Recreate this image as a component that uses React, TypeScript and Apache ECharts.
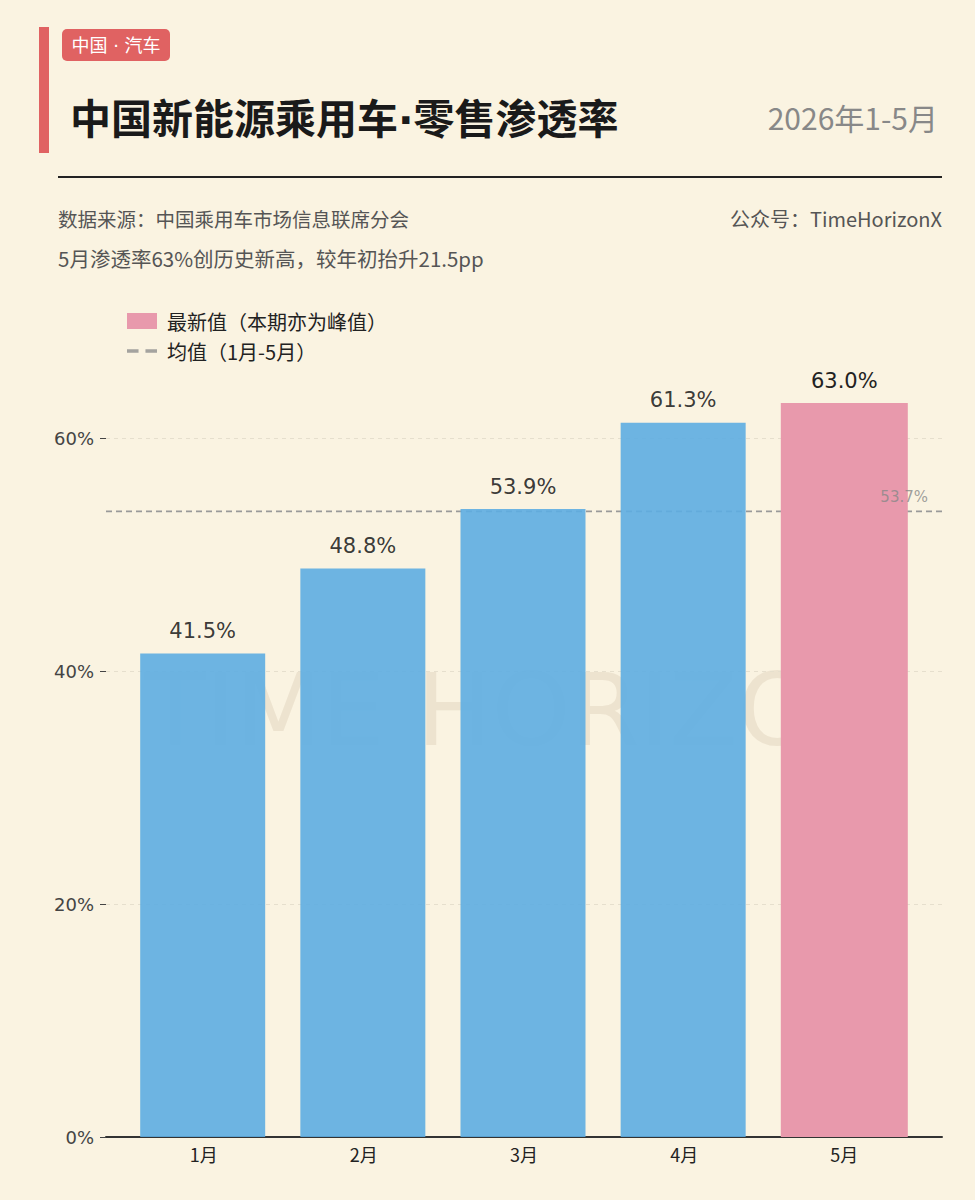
import React, { useEffect, useRef } from "react";
import * as echarts from "echarts";

const CATEGORIES = ["1月", "2月", "3月", "4月", "5月"];
const VALUES = [41.5, 48.8, 53.9, 61.3, 63.0];
const LATEST_INDEX = 4;
const Y_MIN = 0;
const Y_MAX = 60;
const Y_INTERVAL = 20;
const X_MIN = -0.61;
const X_MAX = 4.61;

const TITLE = "中国新能源乘用车·零售渗透率";
const TAG = "中国 · 汽车";
const PERIOD = "2026年1-5月";
const SOURCE = "数据来源：中国乘用车市场信息联席分会";
const ACCOUNT = "公众号：TimeHorizonX";
const SUBTITLE = "5月渗透率63%创历史新高，较年初抬升21.5pp";
const LEGEND_LATEST = "最新值（本期亦为峰值）";
const LEGEND_AVG = "均值（1月-5月）";
const WATERMARK = "TIME HORIZON";

const BG = "#faf3e1";
const BLUE = "#5dade2";
const PINK = "#e899ac";
const RED = "#e06262";
const GREY = "#999";
const CJK = "'Noto Sans CJK SC', sans-serif";
const NUM = "'DejaVu Sans', 'Noto Sans CJK SC', sans-serif";

export default function App() {
  const ref = useRef<HTMLDivElement>(null);
  useEffect(() => {
    document.body.style.margin = "0";
    document.body.style.background = BG;
    const chart = echarts.init(ref.current!, null, { renderer: "svg" });
    const avg = VALUES.reduce((a, b) => a + b, 0) / VALUES.length;
    const blueData = VALUES.map((v, i) => (i === LATEST_INDEX ? [i, "-"] : [i, v]));
    const pinkData = VALUES.map((v, i) => (i === LATEST_INDEX ? [i, v] : [i, "-"]));
    const barLabel = {
      show: true,
      position: "top",
      distance: 12,
      fontSize: 21,
      color: "#222",
      fontFamily: NUM,
      formatter: (p: any) => Number(p.value[1]).toFixed(1) + "%",
    };
    chart.setOption({
      animation: false,
      backgroundColor: BG,
      graphic: [
        {
          type: "text",
          z: 0,
          silent: true,
          style: {
            text: WATERMARK,
            x: 518,
            y: 710,
            align: "center",
            verticalAlign: "middle",
            fontSize: 100,
            fontFamily: NUM,
            fill: "#ede3cf",
          },
        },
        { type: "rect", shape: { x: 39, y: 27, width: 10, height: 126 }, style: { fill: RED } },
        { type: "rect", shape: { x: 62, y: 29, width: 108, height: 32, r: 5 }, style: { fill: RED } },
        {
          type: "text",
          style: { text: TAG, x: 116, y: 45, align: "center", verticalAlign: "middle", fontSize: 18, fontFamily: NUM, fill: "#fff" },
        },
        {
          type: "text",
          style: { text: TITLE, x: 70, y: 120, verticalAlign: "middle", fontSize: 41, fontWeight: "bold", fontFamily: NUM, fill: "#1a1a1a" },
        },
        {
          type: "text",
          style: { text: PERIOD, x: 938, y: 117, align: "right", verticalAlign: "middle", fontSize: 30, fontFamily: CJK, fill: "#888" },
        },
        { type: "line", shape: { x1: 58, y1: 177, x2: 942, y2: 177 }, style: { stroke: "#222", lineWidth: 2 } },
        {
          type: "text",
          style: { text: SOURCE, x: 58, y: 218, verticalAlign: "middle", fontSize: 19.5, fontFamily: CJK, fill: "#555" },
        },
        {
          type: "text",
          style: { text: ACCOUNT, x: 942, y: 218, align: "right", verticalAlign: "middle", fontSize: 20, fontFamily: CJK, fill: "#555" },
        },
        {
          type: "text",
          style: { text: SUBTITLE, x: 58, y: 258, verticalAlign: "middle", fontSize: 20.5, fontFamily: CJK, fill: "#555" },
        },
      ],
      legend: {
        orient: "vertical",
        left: 127,
        top: 311,
        padding: 0,
        itemWidth: 30,
        itemHeight: 16,
        itemGap: 10,
        selectedMode: false,
        data: [
          { name: LEGEND_LATEST, icon: "rect" },
          { name: LEGEND_AVG, icon: "path://M0,0H10V3H0Z M16,0H26V3H16Z", itemStyle: { color: "#8f8f8f" } },
        ],
        textStyle: { fontSize: 20, color: "#222", fontFamily: CJK, padding: [0, 0, 0, 5] },
      },
      grid: { left: 106, right: 33, top: 438, bottom: 63, containLabel: false, outerBoundsMode: "none" },
      xAxis: {
        type: "value",
        min: X_MIN,
        max: X_MAX,
        axisLine: { show: true, onZero: false, lineStyle: { color: "#333", width: 2 } },
        axisTick: { show: false },
        splitLine: { show: false },
        axisLabel: {
          customValues: CATEGORIES.map((_, i) => i),
          formatter: (v: number) => CATEGORIES[Math.round(v)] ?? "",
          fontSize: 18,
          color: "#222",
          fontFamily: CJK,
          margin: 8,
        },
      },
      yAxis: {
        type: "value",
        min: Y_MIN,
        max: Y_MAX,
        interval: Y_INTERVAL,
        axisLine: { show: false, onZero: false },
        axisTick: { show: true, length: 6, lineStyle: { color: "#444" } },
        axisLabel: { formatter: "{value}%", fontSize: 18, color: "#444", fontFamily: NUM, margin: 12 },
        splitLine: { show: true, lineStyle: { color: "#e6dfcd", type: [4, 4], width: 1 } },
      },
      series: [
        {
          name: "均值线",
          type: "line",
          z: 1,
          symbol: "none",
          silent: true,
          lineStyle: { color: GREY, width: 1.6, type: [6, 4] },
          itemStyle: { color: GREY },
          data: [
            [X_MIN, avg],
            [X_MAX, avg],
          ],
        },
        {
          name: "月度渗透率",
          type: "bar",
          z: 3,
          clip: false,
          barWidth: 125,
          barGap: "-100%",
          itemStyle: { color: BLUE, opacity: 0.9 },
          label: barLabel,
          data: blueData,
        },
        {
          name: LEGEND_LATEST,
          type: "bar",
          z: 4,
          clip: false,
          barWidth: 127,
          barGap: "-100%",
          itemStyle: { color: PINK },
          label: barLabel,
          data: pinkData,
        },
        {
          name: LEGEND_AVG,
          type: "scatter",
          z: 6,
          symbolSize: 0,
          silent: true,
          itemStyle: { color: GREY },
          label: {
            show: true,
            position: "left",
            distance: 14,
            offset: [0, -14],
            formatter: () => avg.toFixed(1) + "%",
            fontSize: 15,
            color: "#888",
            fontFamily: NUM,
          },
          data: [[X_MAX, avg]],
        },
      ],
    });
    return () => chart.dispose();
  }, []);
  return <div ref={ref} style={{ width: 975, height: 1200, background: BG }} />;
}
